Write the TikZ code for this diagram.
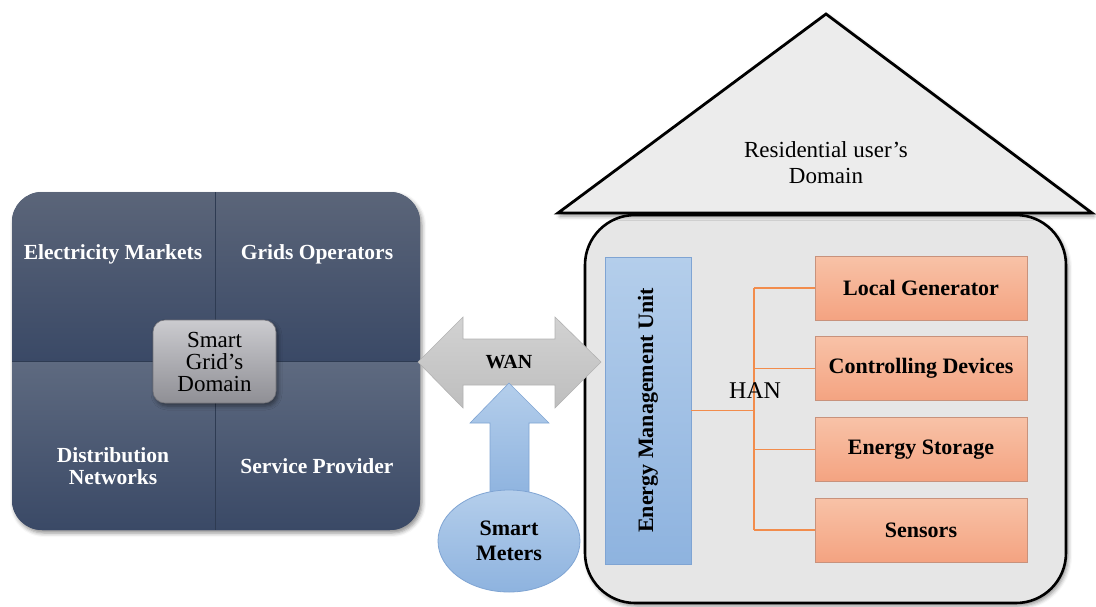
\documentclass[tikz,border=0pt]{standalone}
\usepackage{fontspec}
\setmainfont{Liberation Serif}
\usetikzlibrary{shapes.geometric,shadows.blur}

\definecolor{navytop}{HTML}{5B6579}
\definecolor{navytopb}{HTML}{5E6A80}
\definecolor{navybot}{HTML}{3A4966}
\definecolor{divider}{HTML}{2E3B52}
\definecolor{greytop}{HTML}{CBCBCF}
\definecolor{greybot}{HTML}{8F8F95}
\definecolor{greyedge}{HTML}{74747A}
\definecolor{arrowtop}{HTML}{D2D2D2}
\definecolor{arrowbot}{HTML}{BEBEBE}
\definecolor{arrowedge}{HTML}{B2B2B2}
\definecolor{bluetop}{HTML}{B4CEEB}
\definecolor{bluebot}{HTML}{8EB3DF}
\definecolor{blueedge}{HTML}{7FA4D3}
\definecolor{housefill}{HTML}{E6E6E6}
\definecolor{rooffill}{HTML}{ECECEC}
\definecolor{orgtop}{HTML}{F8C2A7}
\definecolor{orgbot}{HTML}{F4A381}
\definecolor{orgedge}{HTML}{C8927C}
\definecolor{hanline}{HTML}{F28C4C}

\begin{document}
\begin{tikzpicture}[x=1pt,y=-1pt,
  txt/.style={font=\fontsize{23}{26}\selectfont, align=center, inner sep=0pt},
  bold/.style={txt, font=\fontsize{22}{24}\selectfont\bfseries},
  quadlbl/.style={txt, font=\fontsize{21.5}{22}\selectfont\bfseries, text=white},
  softshadow/.style={blur shadow={shadow xshift=2pt, shadow yshift=-3pt, shadow blur radius=4pt, shadow opacity=45}},
  centerbox/.style={txt, font=\fontsize{23}{22}\selectfont, draw=greyedge, line width=0.6pt, rounded corners=12pt,
    top color=greytop, bottom color=greybot, minimum width=123pt, minimum height=83pt, softshadow},
  housebody/.style={draw=black, line width=2.6pt, rounded corners=50pt, fill=housefill,
    minimum width=481pt, minimum height=388pt, softshadow},
  roofstyle/.style={draw=black, line width=2.8pt, line join=miter, fill=rooffill, softshadow},
  emubox/.style={draw=blueedge, line width=0.8pt, top color=bluetop, bottom color=bluebot,
    minimum width=86pt, minimum height=307pt, inner sep=0pt},
  devbox/.style={bold, draw=orgedge, line width=0.8pt, top color=orgtop, bottom color=orgbot,
    minimum width=212pt, minimum height=64pt},
  hanwire/.style={draw=hanline, line width=1.1pt},
  wanarrow/.style={draw=arrowedge, line width=0.6pt, top color=arrowtop, bottom color=arrowbot},
  uparrow/.style={draw=blueedge, line width=0.6pt, top color=bluetop, bottom color=bluebot},
  meter/.style={bold, font=\fontsize{22}{25}\selectfont\bfseries, ellipse, draw=blueedge, line width=0.8pt,
    top color=bluetop, bottom color=bluebot, minimum width=142pt, minimum height=102pt}
]
\useasboundingbox (0,0) rectangle (1096,606);

% ---- smart grid's domain: four shaded quadrants in a rounded frame ----
\path[rounded corners=30pt, fill=navybot, softshadow] (12,192) rectangle (420,530);
\begin{scope}
  \clip[rounded corners=30pt] (12,192) rectangle (420,530);
  \shade[top color=navytop, bottom color=navybot] (12,192) rectangle (420,361);
  \shade[top color=navytopb, bottom color=navybot] (12,361) rectangle (420,530);
  \draw[divider, line width=0.8pt] (215,192) -- (215,530);
  \draw[divider, line width=0.8pt] (12,361) -- (420,361);
\end{scope}

\node[quadlbl] (em) at (113,254) {Electricity Markets};
\node[quadlbl] (go) at (317,254) {Grids Operators};
\node[quadlbl] (dn) at (113,466) {Distribution\\Networks};
\node[quadlbl] (sp) at (317,466) {Service Provider};
\node[centerbox] (sgd) at (214.5,361.5) {Smart\\Grid’s\\Domain};

% ---- residential user's domain: house body and roof ----
\node[housebody] (house) at (825.5,409) {};
\path[roofstyle] (826,14) -- (1092,213) -- (558,213) -- cycle;
\node[txt] (roof) at (826,163) {Residential user’s\\Domain};

% ---- energy management unit and home devices ----
\node[emubox] (emu) at (648,410.5) {};
\node[bold, rotate=90] (emutext) at (emu.center) {Energy Management Unit};

\node[devbox] (lg) at (921,288)   {Local Generator};
\node[devbox] (cd) at (921,368.5) {Controlling Devices};
\node[devbox] (es) at (921,449.5) {Energy Storage};
\node[devbox] (sn) at (921,530)   {Sensors};

\coordinate (bus) at (754,410.5);
\draw[hanwire] (emu.east) -- (bus);
\draw[hanwire] (bus |- lg.west) -- (bus |- sn.west);
\draw[hanwire] (bus |- lg.west) -- (lg.west);
\draw[hanwire] (bus |- cd.west) -- (cd.west);
\draw[hanwire] (bus |- es.west) -- (es.west);
\draw[hanwire] (bus |- sn.west) -- (sn.west);
\node[txt, font=\fontsize{24}{26}\selectfont] (han) at (755,391) {HAN};

% ---- WAN double arrow ----
\path[wanarrow] (418,362) -- (463,317) -- (463,339) -- (555,339) -- (555,317) -- (601,362)
  -- (555,408) -- (555,385) -- (463,385) -- (463,408) -- cycle;
\node[bold, font=\fontsize{20}{22}\selectfont\bfseries] (wan) at (509,362) {WAN};

% ---- smart meters feeding the WAN ----
\path[uparrow] (509,383) -- (549,423) -- (529,423) -- (529,497) -- (490,497) -- (490,423)
  -- (470,423) -- cycle;
\node[meter] (sm) at (509,541) {Smart\\Meters};

\end{tikzpicture}
\end{document}
